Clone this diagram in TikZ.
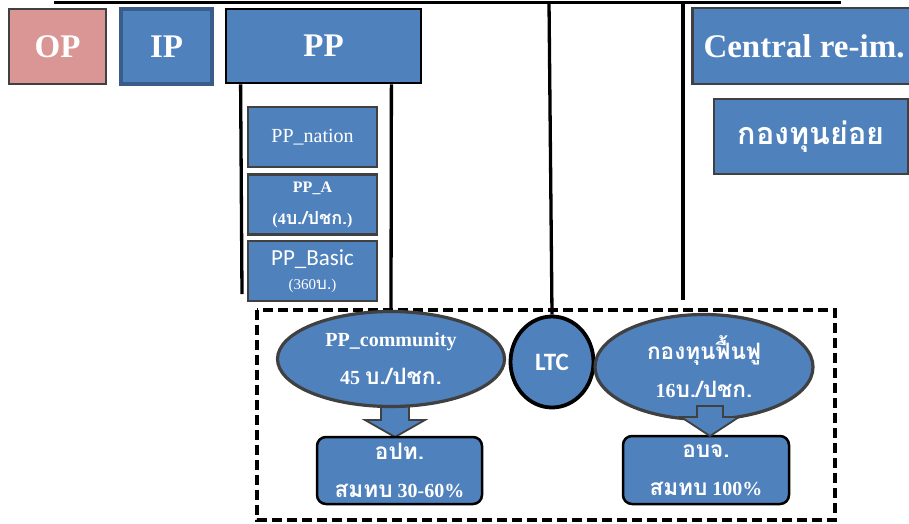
\documentclass[tikz,border=0pt]{standalone}
\usepackage{fontspec}
\setmainfont{Liberation Serif}
\newfontfamily\thai[Script=Thai,Scale=1.13]{Loma}
\newfontfamily\calfont{Carlito}
\usetikzlibrary{calc,shapes.geometric}
\definecolor{boxblue}{HTML}{4F81BD}
\definecolor{boxedge}{HTML}{385D8A}
\definecolor{pinkfill}{HTML}{D99694}
\definecolor{darkedge}{HTML}{404040}
\newcommand{\fs}[2]{\fontsize{#1}{#2}\selectfont}
\begin{document}
\begin{tikzpicture}[x=1pt,y=-1pt,
  base/.style={rectangle, inner sep=0pt, text=white, fill=boxblue},
  topbox/.style={base, draw=black, line width=2.8pt, font=\bfseries\fs{33}{36}},
  subbox/.style={base, draw=darkedge, line width=2.2pt, align=center},
  roundbox/.style={base, draw=black, line width=2.5pt, rounded corners=9pt, align=center,
                   font=\bfseries\fs{20}{38}},
  oval/.style={ellipse, inner sep=0pt, fill=boxblue, draw=darkedge, line width=3.2pt,
               text=white, align=center, font=\bfseries\fs{20}{38}},
  link/.style={draw=black, line width=3.3pt},
  blockarrow/.style={fill=boxblue, draw=darkedge, line width=1.8pt, line join=miter}]
\useasboundingbox (0,0) rectangle (909,523);

% top bus line and its branch points
\coordinate (busL) at (54,2.2);
\coordinate (busR) at (841,2.2);
\coordinate (busLTC) at (549,2);
\coordinate (busSub) at (683,2);
\coordinate (subEnd) at (683,300);
\coordinate (ppLeftEnd) at (242,294);

% dashed frame around the community level
\draw[black, line width=3.6pt, dash pattern=on 10pt off 5pt] (257,310) rectangle (835,520);

% top row of schemes
\node[topbox, fill=pinkfill, draw=darkedge, minimum width=97pt, minimum height=75pt] (op) at (57.5,46.5) {OP};
\node[topbox, draw=boxedge, line width=3.2pt, minimum width=91pt, minimum height=75pt] (ip) at (166.5,46.5) {IP};
\node[topbox, minimum width=195pt, minimum height=74pt] (pp) at (323.5,46) {PP};
\node[topbox, draw=darkedge, minimum width=228pt, minimum height=76pt, anchor=west] (cen) at (691,46) {};
\node[white, font=\bfseries\fs{33}{36}] (centxt) at (804,46) {Central re-im.};
\node[subbox, line width=2.6pt, minimum width=194pt, minimum height=75pt] (sub) at (811,136.5) {\thai\bfseries\fs{27}{34}กองทุนย่อย};

% PP sub-programmes
\node[subbox, minimum width=129pt, minimum height=60pt, font=\fs{20}{24}] (ppn) at (312.5,137) {PP\_nation};
\node[subbox, minimum width=129pt, minimum height=60pt, font=\bfseries\fs{16}{32}] (ppa) at (312.5,204.5)
  {PP\_A\\(4{\thai บ./ปชก.})};
\node[subbox, minimum width=129pt, minimum height=60pt, font=\fs{15}{24}] (ppb) at (312.5,271)
  {{\calfont\fs{23}{26}PP\_Basic}\\(360{\thai บ.})};

% block arrow from PP_community down to the local bodies (behind the oval)
\coordinate (tipA) at (395,437);
\draw[blockarrow] (tipA) -- ++(-30,-17) -- ++(16,0) -- ++(0,-16) -- ++(28,0)
  -- ++(0,16) -- ++(16,0) -- cycle;

% community level
\node[oval, minimum width=227pt, minimum height=95pt] (comm) at (391,359)
  {PP\_community\\45 {\thai บ./ปชก.}};
\node[ellipse, inner sep=0pt, fill=boxblue, draw=black, line width=3.8pt, text=white,
      minimum width=83pt, minimum height=91pt, font=\calfont\bfseries\fs{25}{28}] (ltc) at (552,362) {LTC};
\node[roundbox, minimum width=165pt, minimum height=67pt] (opt) at (399.5,470.5)
  {{\thai อปท.}\\{\thai สมทบ} 30-60\%};
\node[roundbox, minimum width=166pt, minimum height=68pt] (obj) at (706,470)
  {{\thai อบจ.}\\{\thai สมทบ} 100\%};

% rehabilitation fund and its arrow (arrow drawn over the oval)
\node[oval, minimum width=218pt, minimum height=105pt] (fund) at (704,367)
  {{\thai กองทุนฟื้นฟู}\\16{\thai บ./ปชก.}};
\coordinate (tipB) at (710,436);
\draw[blockarrow] (tipB) -- ++(-29,-19) -- ++(16,0) -- ++(0,-11) -- ++(26,0)
  -- ++(0,11) -- ++(16,0) -- cycle;

% connectors
\draw[link] (busL) -- (busR);
\draw[link] ($(pp.south west)+(16,0)$) -- (ppLeftEnd);
\draw[link] ($(pp.south east)+(-31,0)$) -- (comm.north);
\draw[link] (busLTC) -- (ltc.north);
\draw[link] (busSub) -- (subEnd);
\end{tikzpicture}
\end{document}
